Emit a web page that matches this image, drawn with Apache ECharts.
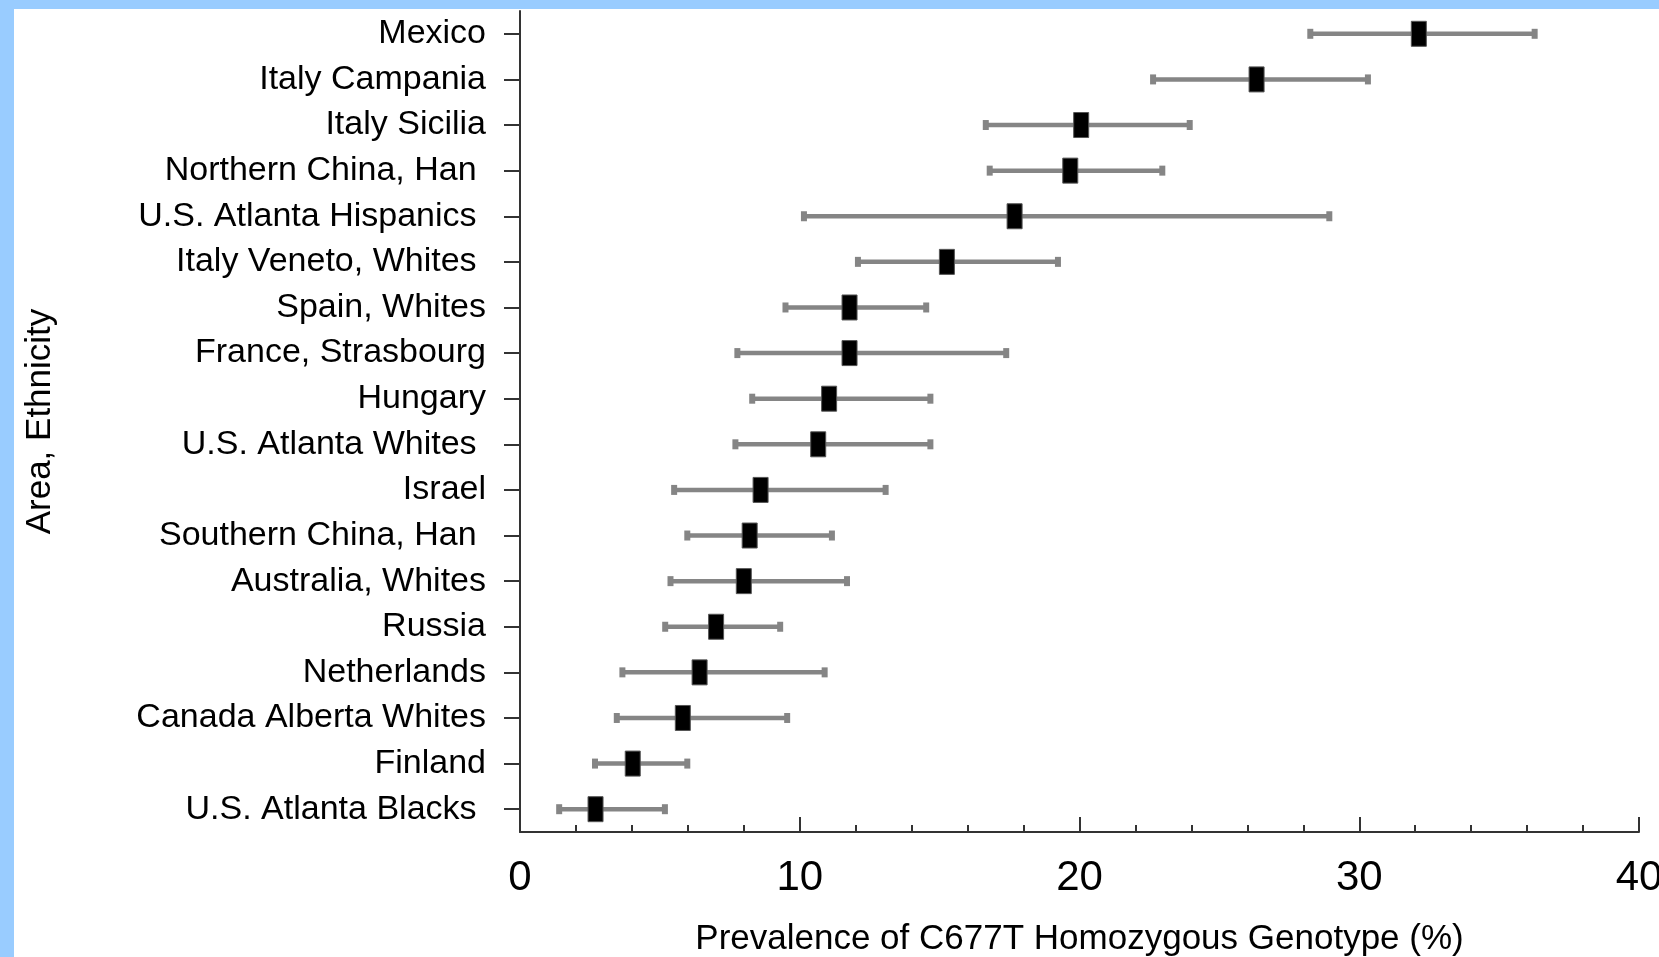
<!DOCTYPE html>
<html>
<head>
<meta charset="utf-8">
<script src="https://cdn.jsdelivr.net/npm/echarts@6/dist/echarts.min.js"></script>
<style>
html,body{margin:0;padding:0;background:#fff;}
#chart{width:1659px;height:957px;}
</style>
</head>
<body>
<div id="chart"></div>
<script>
// Categories (top to bottom)
var categories = [
  "Mexico", "Italy Campania", "Italy Sicilia", "Northern China, Han ",
  "U.S. Atlanta Hispanics ", "Italy Veneto, Whites ", "Spain, Whites",
  "France, Strasbourg", "Hungary", "U.S. Atlanta Whites ", "Israel",
  "Southern China, Han ", "Australia, Whites", "Russia", "Netherlands",
  "Canada Alberta Whites", "Finland", "U.S. Atlanta Blacks "
];
// Point estimates (%)
var estimate = [32.13, 26.33, 20.06, 19.67, 17.68, 15.26, 11.78, 11.78, 11.05, 10.66, 8.60, 8.21, 8.00, 7.01, 6.42, 5.82, 4.03, 2.70];
// Lower confidence limits (%)
var lower = [28.25, 22.63, 16.65, 16.79, 10.15, 12.08, 9.49, 7.77, 8.30, 7.70, 5.51, 5.98, 5.38, 5.19, 3.66, 3.46, 2.68, 1.40];
// Upper confidence limits (%)
var upper = [36.27, 30.31, 23.94, 22.96, 28.93, 19.23, 14.52, 17.38, 14.67, 14.67, 13.07, 11.15, 11.69, 9.30, 10.89, 9.55, 5.98, 5.18];
// X axis ticks
var xMin = 0, xMax = 40, xInterval = 10;

var seriesData = categories.map(function (c, i) {
  return [i, lower[i], estimate[i], upper[i]];
});

var chart = echarts.init(document.getElementById('chart'), null, {renderer: 'canvas'});
var FONT = '"Liberation Sans", Arial, sans-serif';
var AX = '#333333';
var BAR = '#858585';

var option = {
  backgroundColor: '#ffffff',
  animation: false,
  graphic: [
    {type: 'rect', left: 0, top: 0, shape: {width: 1659, height: 9}, style: {fill: '#99ccff'}, silent: true},
    {type: 'rect', left: 0, top: 0, shape: {width: 14, height: 957}, style: {fill: '#99ccff'}, silent: true}
  ],
  grid: {left: 520, right: 20, top: 11, bottom: 125, containLabel: false, outerBoundsMode: 'none'},
  xAxis: {
    type: 'value',
    min: xMin, max: xMax, interval: xInterval,
    name: 'Prevalence of C677T Homozygous Genotype (%)',
    nameLocation: 'middle',
    nameGap: 90,
    nameTextStyle: {fontFamily: FONT, fontSize: 35, color: '#000'},
    axisLine: {show: true, onZero: false, lineStyle: {color: AX, width: 2}},
    axisTick: {show: true, inside: true, length: 15, lineStyle: {color: AX, width: 2}},
    minorTick: {show: true, splitNumber: 5, length: 7, lineStyle: {color: AX, width: 2}},
    axisLabel: {fontFamily: FONT, fontSize: 42, color: '#000', margin: 25},
    splitLine: {show: false}
  },
  yAxis: {
    type: 'category',
    data: categories,
    inverse: true,
    boundaryGap: true,
    name: 'Area, Ethnicity',
    nameLocation: 'middle',
    nameGap: 462,
    nameTextStyle: {fontFamily: FONT, fontSize: 35, color: '#000'},
    axisLine: {show: true, lineStyle: {color: AX, width: 2}},
    axisTick: {show: true, inside: false, alignWithLabel: true, length: 16, lineStyle: {color: AX, width: 2}},
    axisLabel: {fontFamily: FONT, fontSize: 34, color: '#000', margin: 34},
    splitLine: {show: false}
  },
  series: [{
    type: 'custom',
    data: seriesData,
    encode: {x: [1, 2, 3], y: 0},
    renderItem: function (params, api) {
      var cat = api.value(0);
      var pL = api.coord([api.value(1), cat]);
      var pC = api.coord([api.value(2), cat]);
      var pR = api.coord([api.value(3), cat]);
      var y = pC[1];
      return {
        type: 'group',
        children: [
          {type: 'line', shape: {x1: pL[0], y1: y, x2: pR[0], y2: y}, style: {stroke: BAR, lineWidth: 4.5}},
          {type: 'rect', shape: {x: pL[0] - 3, y: y - 5, width: 6, height: 10}, style: {fill: BAR}},
          {type: 'rect', shape: {x: pR[0] - 3, y: y - 5, width: 6, height: 10}, style: {fill: BAR}},
          {type: 'rect', shape: {x: pC[0] - 7.5, y: y - 12.5, width: 15, height: 25}, style: {fill: '#000', stroke: '#555', lineWidth: 1}}
        ]
      };
    }
  }]
};
chart.setOption(option);
</script>
</body>
</html>
